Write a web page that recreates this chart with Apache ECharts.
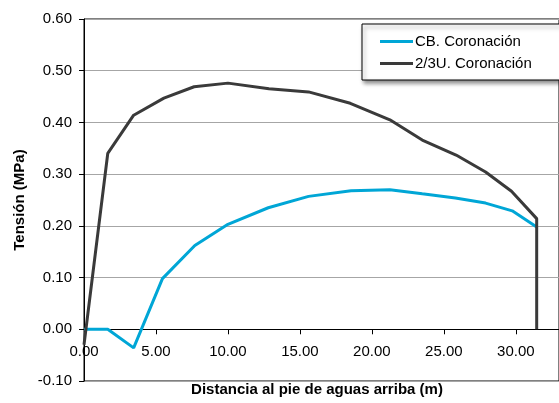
<!DOCTYPE html>
<html>
<head>
<meta charset="utf-8">
<script src="https://cdn.jsdelivr.net/npm/echarts@6/dist/echarts.min.js"></script>
<style>
  html, body { margin: 0; padding: 0; background: #fff; }
  #chart { width: 559px; height: 403px; }
</style>
</head>
<body>
<div id="chart"></div>
<script>
// distancia (m) y tension (MPa)
const xCB = [0, 1.65, 3.45, 5.45, 7.7, 10.0, 12.8, 15.6, 18.55, 21.25, 23.5, 25.8, 27.9, 29.75, 31.45]
const yCB = [0, 0, -0.036, 0.098, 0.162, 0.203, 0.235, 0.257, 0.268, 0.270, 0.262, 0.254, 0.244, 0.229, 0.198]

const x2U = [0, 1.65, 3.45, 5.55, 7.65, 10.0, 12.85, 15.6, 18.5, 21.25, 23.5, 25.85, 27.9, 29.7, 31.45, 31.45]
const y2U = [-0.03, 0.34, 0.414, 0.447, 0.469, 0.476, 0.465, 0.459, 0.437, 0.405, 0.366, 0.337, 0.304, 0.267, 0.214, 0]

const seriesNames = ['CB. Coronación', '2/3U. Coronación']
const xTitle = 'Distancia al pie de aguas arriba (m)'
const yTitle = 'Tensión (MPa)'

const font = 'Liberation Sans, Arial, sans-serif'
const pairs = (xs, ys) => xs.map((x, i) => [x, ys[i]])

const gridH = 362
const yMin = -0.1
const yMax = 0.6

const chart = echarts.init(document.getElementById('chart'), null, { renderer: 'canvas' })
chart.setOption({
  animation: false,
  textStyle: { fontFamily: font },
  grid: {
    left: 84, top: 19, width: 481, height: gridH,
    show: true, borderColor: '#000', borderWidth: 1, backgroundColor: 'transparent',
  },
  title: {
    text: xTitle,
    left: 312, top: 377, textAlign: 'center',
    textStyle: { fontFamily: font, fontSize: 15, fontWeight: 'bold', color: '#000' },
  },
  legend: {
    orient: 'vertical',
    left: 362, top: 24,
    padding: [10, 60, 9, 18],
    itemGap: 7,
    itemWidth: 33, itemHeight: 3,
    icon: 'rect',
    backgroundColor: '#fff',
    borderColor: '#000', borderWidth: 1,
    shadowColor: 'rgba(0,0,0,0.45)', shadowBlur: 4, shadowOffsetX: 2, shadowOffsetY: 3,
    textStyle: { fontFamily: font, fontSize: 15, color: '#000', padding: [0, 0, 0, -3] },
    data: seriesNames,
  },
  xAxis: {
    type: 'value',
    min: 0, max: 33, interval: 5,
    // eje X sobre y = 0 (la linea de cero queda a 0.1 del borde inferior)
    offset: -gridH * (0 - yMin) / (yMax - yMin),
    axisLine: { onZero: false, lineStyle: { color: '#000', width: 1 } },
    axisTick: { show: true, length: 5, lineStyle: { color: '#000' } },
    axisLabel: {
      color: '#000', fontSize: 15, fontFamily: font, margin: 15,
      showMaxLabel: false,
      formatter: (v) => v.toFixed(2),
    },
    splitLine: { show: false },
  },
  yAxis: {
    type: 'value',
    min: yMin, max: yMax, interval: 0.1,
    name: yTitle,
    nameLocation: 'middle', nameRotate: 90, nameGap: 57,
    nameTextStyle: { fontFamily: font, fontSize: 15, fontWeight: 'bold', color: '#000' },
    axisLine: { show: true, onZero: false, lineStyle: { color: '#000', width: 1 } },
    axisTick: { show: true, length: 5, lineStyle: { color: '#000' } },
    axisLabel: {
      color: '#000', fontSize: 15, fontFamily: font, margin: 12,
      formatter: (v) => v.toFixed(2),
    },
    splitLine: { show: true, lineStyle: { color: '#a6a6a6', width: 1 } },
  },
  series: [
    {
      name: seriesNames[0],
      type: 'line',
      symbol: 'none',
      lineStyle: { color: '#00a6d6', width: 3 },
      itemStyle: { color: '#00a6d6' },
      data: pairs(xCB, yCB),
    },
    {
      name: seriesNames[1],
      type: 'line',
      symbol: 'none',
      lineStyle: { color: '#3a3a3a', width: 3 },
      itemStyle: { color: '#3a3a3a' },
      data: pairs(x2U, y2U),
    },
  ],
})
</script>
</body>
</html>
